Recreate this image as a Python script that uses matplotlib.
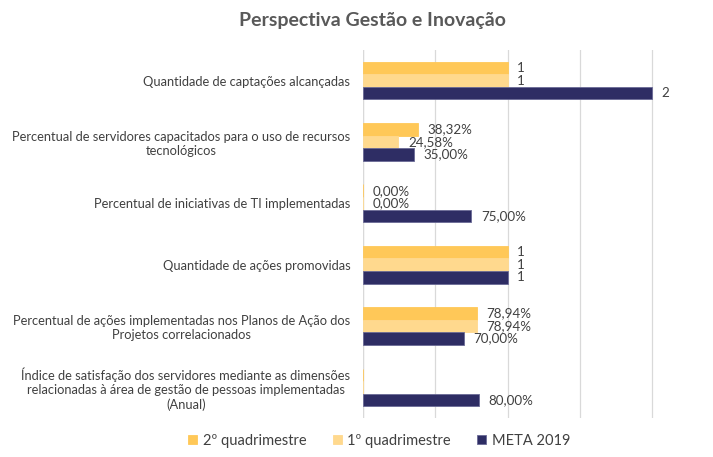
import numpy as np
import matplotlib.pyplot as plt

plt.rcParams['font.family'] = ['Lato', 'DejaVu Sans']

categorias = [
    'Quantidade de captações alcançadas',
    'Percentual de servidores capacitados para o uso de recursos\ntecnológicos',
    'Percentual de iniciativas de TI implementadas',
    'Quantidade de ações promovidas',
    'Percentual de ações implementadas nos Planos de Ação dos\nProjetos correlacionados',
    'Índice de satisfação dos servidores mediante as dimensões\nrelacionadas à área de gestão de pessoas implementadas\n(Anual)',
]
quad2 = [1, 0.3832, 0.0, 1, 0.7894, np.nan]
quad1 = [1, 0.2458, 0.0, 1, 0.7894, np.nan]
meta = [2, 0.35, 0.75, 1, 0.70, 0.80]
rotulos_quad2 = ['1', '38,32%', '0,00%', '1', '78,94%', '']
rotulos_quad1 = ['1', '24,58%', '0,00%', '1', '78,94%', '']
rotulos_meta = ['2', '35,00%', '75,00%', '1', '70,00%', '80,00%']

series = [
    ('2º quadrimestre', quad2, rotulos_quad2, '#FFC858', -0.205),
    ('1º quadrimestre', quad1, rotulos_quad1, '#FFD98E', 0.0),
    ('META 2019', meta, rotulos_meta, '#2E2D64', 0.205),
]

fig = plt.figure(figsize=(7.13, 4.57), dpi=100)
ax = fig.add_axes([0.509, 0.085, 0.485, 0.806])

y = np.arange(len(categorias))
for nome, vals, rots, cor, off in series:
    v = np.array(vals, dtype=float)
    ec = '#6A6A96' if nome == 'META 2019' else cor
    ax.barh(y + off, np.nan_to_num(v), height=0.205, color=cor, label=nome,
            edgecolor=ec, linewidth=0.6)
    for yi, vi, r in zip(y, v, rots):
        if r:
            ax.text(vi + 0.065, yi + off, r, va='center', ha='left',
                    fontsize=9.6, color='#404040')

ax.set_xlim(0, 2.39)
ax.set_ylim(len(categorias) - 0.5, -0.5)
ax.set_xticks([0, 0.5, 1, 1.5, 2])
ax.set_xticklabels([])
ax.tick_params(length=0)
ax.grid(axis='x', color='#D9D9D9', linewidth=0.9)
ax.set_axisbelow(True)
for s in ax.spines.values():
    s.set_visible(False)
ax.axvline(0, color='#D9D9D9', linewidth=0.9, zorder=0)

ax.set_yticks(y)
ax.set_yticklabels(categorias, fontsize=9.3, color='#404040')
ax.tick_params(axis='y', pad=9)
for t in ax.get_yticklabels():
    t.set_multialignment('center')

fig.text(0.522, 0.955, 'Perspectiva Gestão e Inovação', ha='center', va='center',
         fontsize=14, fontweight='bold', color='#595959')

leg = fig.legend(loc='center', bbox_to_anchor=(0.532, 0.035), ncol=3, frameon=False,
                 fontsize=10.5, handlelength=0.6, handleheight=0.6, columnspacing=1.8,
                 handletextpad=0.4)
for t in leg.get_texts():
    t.set_color('#404040')

fig.savefig('out.png', dpi=100)
